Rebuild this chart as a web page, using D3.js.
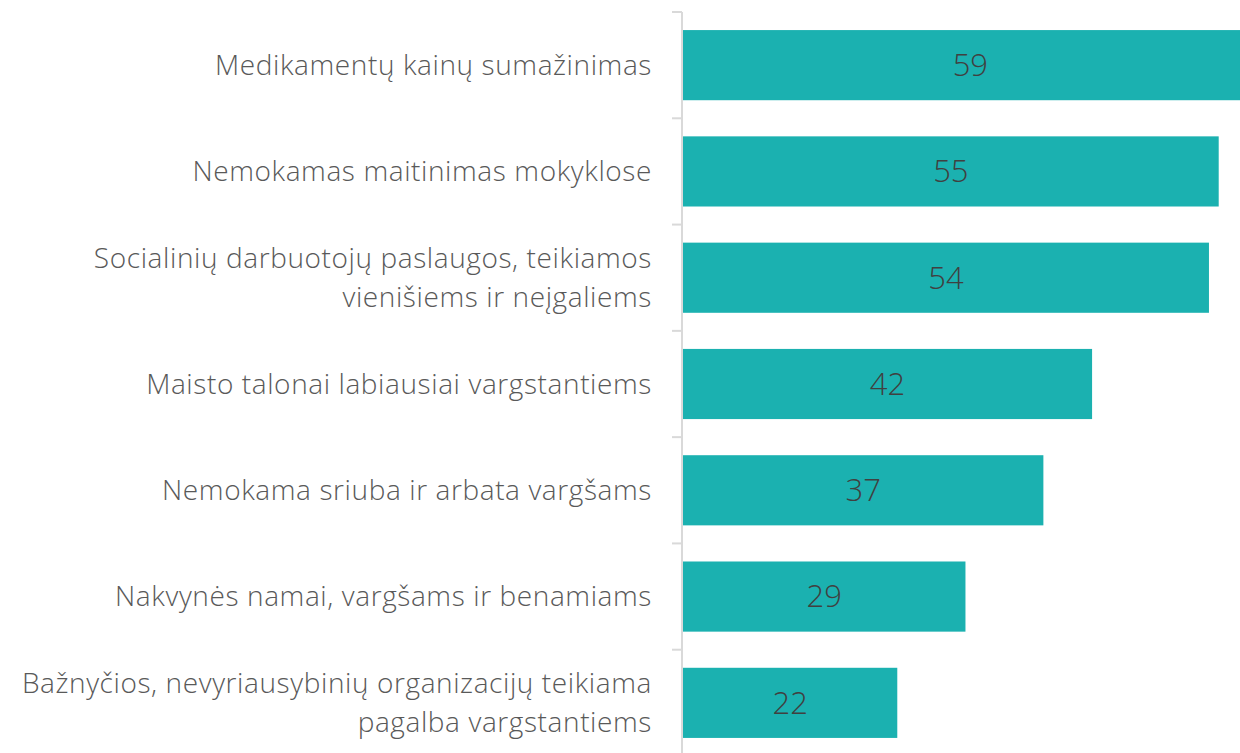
<!DOCTYPE html>
<html><head><meta charset="utf-8">
<script src="https://cdn.jsdelivr.net/npm/d3@7/dist/d3.min.js"></script>
<style>
html,body{margin:0;padding:0;background:#fff;overflow:hidden;}
svg{display:block;font-family:"Open Sans","Segoe UI",Lato,sans-serif;font-weight:300;}
</style></head>
<body>
<svg id="c" width="1240" height="753"></svg>
<script>
const categories = [
  ["Medikamentų kainų sumažinimas"],
  ["Nemokamas maitinimas mokyklose"],
  ["Socialinių darbuotojų paslaugos, teikiamos", "vienišiems ir neįgaliems"],
  ["Maisto talonai labiausiai vargstantiems"],
  ["Nemokama sriuba ir arbata vargšams"],
  ["Nakvynės namai, vargšams ir benamiams"],
  ["Bažnyčios, nevyriausybinių organizacijų teikiama", "pagalba vargstantiems"]
];
const values = [59, 55, 54, 42, 37, 29, 22];

const svg = d3.select("#c");
const x0 = 683;
const x = d3.scaleLinear().domain([0, 60]).range([x0, x0 + 60 * 9.74]);
const y = d3.scaleBand().domain(d3.range(categories.length)).range([12, 756]).paddingInner(0.34).paddingOuter(0.17);

svg.append("g").selectAll("rect").data(values).join("rect")
  .attr("x", x(0)).attr("y", (d, i) => y(i))
  .attr("width", d => x(d) - x(0)).attr("height", y.bandwidth())
  .attr("fill", "#1bb1b0");

// axis
const step = y.step();
const ax = svg.append("g").attr("stroke", "#d9d9d9").attr("stroke-width", 2);
ax.append("line").attr("x1", 682).attr("x2", 682).attr("y1", 12).attr("y2", 760);
ax.selectAll("line.t").data(d3.range(categories.length + 1)).join("line").attr("class", "t")
  .attr("x1", 672).attr("x2", 682)
  .attr("y1", i => 12 + i * step).attr("y2", i => 12 + i * step);

// value labels
svg.append("g").selectAll("text").data(values).join("text")
  .attr("x", d => (x(0) + x(d)) / 2)
  .attr("y", (d, i) => y(i) + y.bandwidth() / 2)
  .attr("dy", "0.35em").attr("text-anchor", "middle")
  .attr("font-size", 31).attr("fill", "#404040")
  .text(d => d);

// category labels
const lh = 39;
const g = svg.append("g");
categories.forEach((lines, i) => {
  const cy = y(i) + y.bandwidth() / 2;
  const t = g.append("text").attr("text-anchor", "end").attr("font-size", 28).attr("letter-spacing", 0.6).attr("fill", "#595959");
  lines.forEach((l, j) => {
    t.append("tspan").attr("x", 652)
      .attr("y", cy + (j - (lines.length - 1) / 2) * lh)
      .attr("dy", "0.35em").text(l);
  });
});
</script>
</body></html>
